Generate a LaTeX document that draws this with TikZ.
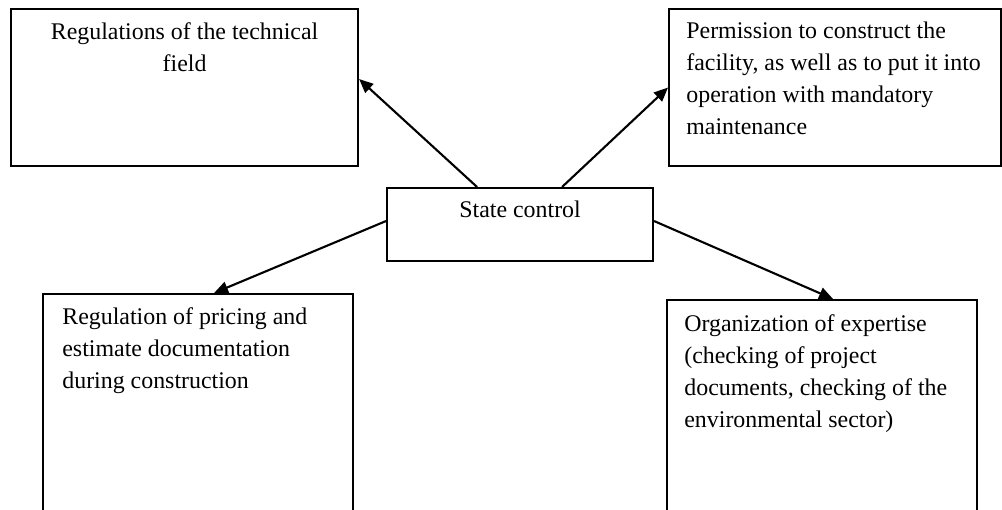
\documentclass[tikz,border=0pt]{standalone}
\usepackage{fontspec}
\setmainfont{Liberation Serif}
\usetikzlibrary{arrows.meta}

\tikzset{
  box/.style={draw=black, line width=1.2pt, anchor=north west, inner sep=0pt},
  txt/.style={inner sep=0pt, font=\fontsize{13.6}{18.2}\selectfont},
  arr/.style={line width=1.2pt, -{Triangle[length=0.28cm,width=0.24cm]}}
}

\begin{document}
\begin{tikzpicture}
\useasboundingbox (0,0) rectangle (20.04,10.2);
\clip (0,0) rectangle (20.04,10.2);

% upper row
\node[box, minimum width=6.94cm, minimum height=3.14cm] (tech) at (0.2,10.04) {};
\node[txt, anchor=north, align=center] (techtxt) at ([yshift=-0.28cm]tech.north) {Regulations of the technical\\field};

\node[box, minimum width=6.64cm, minimum height=3.14cm] (perm) at (13.36,10.04) {};
\node[txt, anchor=north west, align=left] (permtxt) at ([xshift=0.36cm,yshift=-0.28cm]perm.north west) {Permission to construct the\\facility, as well as to put it into\\operation with mandatory\\maintenance};

% centre
\node[box, minimum width=5.32cm, minimum height=1.46cm] (ctrl) at (7.72,6.46) {};
\node[txt, anchor=north] (ctrltxt) at ([yshift=-0.28cm]ctrl.north) {State control};

% lower row
\node[box, minimum width=6.2cm, minimum height=5cm] (price) at (0.84,4.34) {};
\node[txt, anchor=north west, align=left] (pricetxt) at ([xshift=0.4cm,yshift=-0.28cm]price.north west) {Regulation of pricing and\\estimate documentation\\during construction};

\node[box, minimum width=6.2cm, minimum height=5cm] (expert) at (13.32,4.22) {};
\node[txt, anchor=north west, align=left] (experttxt) at ([xshift=0.36cm,yshift=-0.3cm]expert.north west) {Organization of expertise\\(checking of project\\documents, checking of the\\environmental sector)};

% arrows
\draw[arr] ([xshift=-0.86cm]ctrl.north) -- ([yshift=0.17cm]tech.east);
\draw[arr] ([xshift=0.84cm]ctrl.north) -- (perm.west);
\draw[arr] ([yshift=0.07cm]ctrl.west) -- ([xshift=0.32cm]price.north);
\draw[arr] ([yshift=0.07cm]ctrl.east) -- ([xshift=0.22cm]expert.north);

\end{tikzpicture}
\end{document}
